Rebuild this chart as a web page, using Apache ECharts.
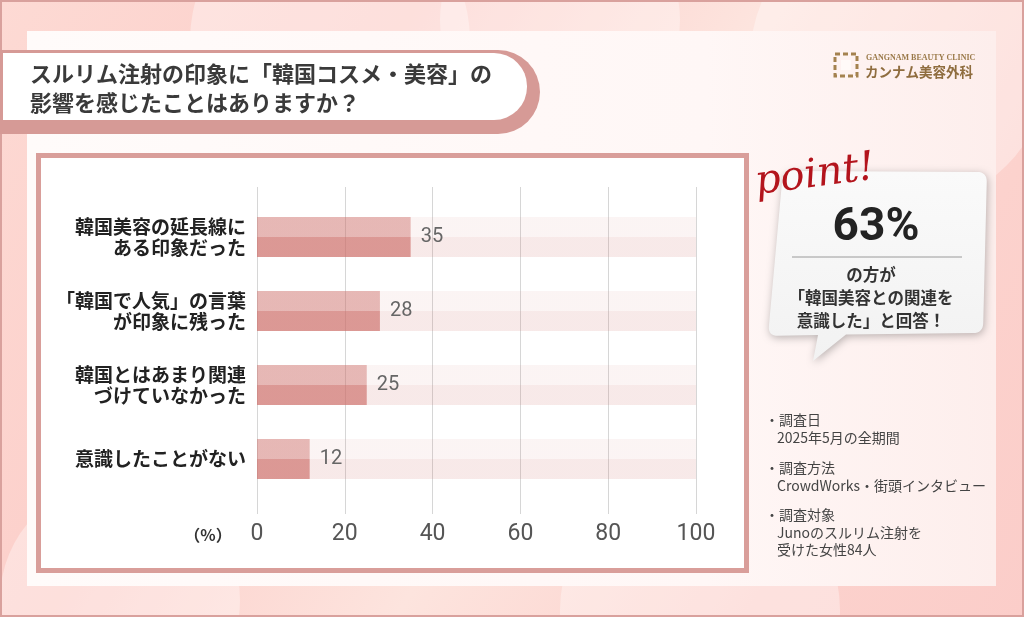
<!DOCTYPE html>
<html><head><meta charset="utf-8">
<script src="https://cdn.jsdelivr.net/npm/echarts@6/dist/echarts.min.js"></script>
<style>html,body{margin:0;padding:0;background:#fff;}#c{width:1024px;height:617px;}</style>
</head><body><div id="c"></div>
<script>
const titleLines = ['スルリム注射の印象に「韓国コスメ・美容」の', '影響を感じたことはありますか？'];
const categories = ['韓国美容の延長線に\nある印象だった', '「韓国で人気」の言葉\nが印象に残った', '韓国とはあまり関連\nづけていなかった', '意識したことがない'];
const values = [35, 28, 25, 12];
const axisMin = 0, axisMax = 100, axisStep = 20;
const unitLabel = '（%）';
const pointWord = 'point!';
const pointValue = '63%';
const pointLines = ['の方が', '「韓国美容との関連を', '意識した」と回答！'];
const notes = [
  ['・調査日', '2025年5月の全期間'],
  ['・調査方法', 'CrowdWorks・街頭インタビュー'],
  ['・調査対象', 'Junoのスルリム注射を', '受けた女性84人']
];
const logoEn = 'GANGNAM BEAUTY CLINIC';
const logoJa = 'カンナム美容外科';

const JP = '"Noto Sans CJK JP", "Noto Sans", sans-serif';
const chart = echarts.init(document.getElementById('c'), null, {renderer: 'canvas'});

function vgrad(a, b) {
  return new echarts.graphic.LinearGradient(0, 0, 0, 1, [
    {offset: 0, color: a}, {offset: 0.5, color: a}, {offset: 0.5, color: b}, {offset: 1, color: b}
  ]);
}
// rounded polygon outline (decoration shape only)
function roundedPoly(pts, r) {
  const out = [];
  const n = pts.length;
  for (let i = 0; i < n; i++) {
    const p = pts[i], pr = pts[(i - 1 + n) % n], nx = pts[(i + 1) % n];
    const rr = p[2] === undefined ? r : p[2];
    if (!rr) { out.push([p[0], p[1]]); continue; }
    const d1 = Math.hypot(pr[0] - p[0], pr[1] - p[1]), d2 = Math.hypot(nx[0] - p[0], nx[1] - p[1]);
    const a = [p[0] + (pr[0] - p[0]) * rr / d1, p[1] + (pr[1] - p[1]) * rr / d1];
    const b = [p[0] + (nx[0] - p[0]) * rr / d2, p[1] + (nx[1] - p[1]) * rr / d2];
    for (let k = 0; k <= 8; k++) {
      const t = k / 8;
      out.push([(1 - t) * (1 - t) * a[0] + 2 * t * (1 - t) * p[0] + t * t * b[0],
                (1 - t) * (1 - t) * a[1] + 2 * t * (1 - t) * p[1] + t * t * b[1]]);
    }
  }
  return out;
}

const graphics = [];
// background
graphics.push({type: 'rect', z: -10, shape: {x: 0, y: 0, width: 1024, height: 617},
  style: {fill: new echarts.graphic.LinearGradient(0, 0, 1, 1, [
    {offset: 0, color: '#fddad4'}, {offset: 0.3, color: '#fccfca'}, {offset: 0.55, color: '#fde4de'}, {offset: 0.8, color: '#fcd2cd'}, {offset: 1, color: '#fbcdc9'}])}});
[[330, 40, 140], [560, 20, 120], [900, 60, 150], [120, 600, 120], [700, 610, 140]].forEach(function (c) {
  graphics.push({type: 'circle', z: -9, shape: {cx: c[0], cy: c[1], r: c[2]}, style: {fill: 'rgba(255,255,255,0.35)'}});
});
graphics.push({type: 'rect', z: -8, shape: {x: 1, y: 1, width: 1022, height: 615}, style: {fill: 'none', stroke: '#d9a19d', lineWidth: 2}});
// inner panel
graphics.push({type: 'rect', z: -7, shape: {x: 27, y: 31, width: 969, height: 555},
  style: {fill: new echarts.graphic.LinearGradient(0, 0, 1, 0, [
    {offset: 0, color: '#fffbfa'}, {offset: 0.7, color: '#fff7f6'}, {offset: 1, color: '#fdeeec'}])}});
// title banner
graphics.push({type: 'rect', z: -6, shape: {x: -40, y: 50, width: 580, height: 84, r: [0, 42, 42, 0]}, style: {fill: '#d69a96'}});
graphics.push({type: 'rect', z: -5, shape: {x: 3, y: 53, width: 524, height: 67, r: [0, 33, 33, 0]}, style: {fill: '#ffffff'}});
titleLines.forEach(function (t, i) {
  graphics.push({type: 'text', z: 5, x: 30, y: 74 + i * 29, style: {text: t, font: 'bold 22px ' + JP, fill: '#3a3a3a', textVerticalAlign: 'middle'}});
});
// chart box
graphics.push({type: 'rect', z: -4, shape: {x: 38.5, y: 155.5, width: 708, height: 415}, style: {fill: '#ffffff', stroke: '#d99e9a', lineWidth: 5}});
graphics.push({type: 'text', z: 5, x: 208, y: 535, style: {text: unitLabel, font: 'bold 16px ' + JP, fill: '#333', textAlign: 'center', textVerticalAlign: 'middle'}});
// logo
graphics.push({type: 'rect', z: 5, shape: {x: 835, y: 54, width: 22, height: 22}, style: {fill: 'none', stroke: '#a4824f', lineWidth: 3, lineDash: [5, 3]}});
graphics.push({type: 'rect', z: 5, shape: {x: 841, y: 60, width: 10, height: 10}, style: {fill: '#fffaf8'}});
graphics.push({type: 'text', z: 5, x: 866, y: 58, style: {text: logoEn, font: 'bold 8px "Liberation Serif", serif', fill: '#9b7a4a', textVerticalAlign: 'middle'}});
graphics.push({type: 'text', z: 5, x: 865, y: 72, style: {text: logoJa, font: 'bold 13.5px ' + JP, fill: '#8f6d3f', textVerticalAlign: 'middle'}});
// bubble
const bubblePts = roundedPoly([[783, 171], [987, 172], [983, 333], [846, 334.5, 0], [813, 361, 0], [818, 335, 0], [768, 336]], 10);
graphics.push({type: 'polygon', z: 3, shape: {points: bubblePts},
  style: {fill: new echarts.graphic.LinearGradient(0, 0, 0, 1, [{offset: 0, color: '#fafafa'}, {offset: 1, color: '#f2f2f2'}]),
    shadowColor: 'rgba(0,0,0,0.28)', shadowBlur: 8, shadowOffsetX: 1, shadowOffsetY: 2}});
graphics.push({type: 'text', z: 6, x: 815, y: 176, rotation: 0.13, style: {text: pointWord, font: 'italic 40px "DejaVu Serif", serif', fill: '#b3141c', textAlign: 'center', textVerticalAlign: 'middle'}});
graphics.push({type: 'text', z: 6, x: 876, y: 228, style: {text: pointValue, font: 'bold 46px Roboto, "Noto Sans", sans-serif', fill: '#232323', textAlign: 'center', textVerticalAlign: 'middle'}});
graphics.push({type: 'line', z: 6, shape: {x1: 792, y1: 257, x2: 962, y2: 257}, style: {stroke: '#9a9a9a', lineWidth: 1}});
pointLines.forEach(function (t, i) {
  graphics.push({type: 'text', z: 6, x: 871, y: 275 + i * 23, style: {text: t, font: 'bold 16.5px ' + JP, fill: '#333', textAlign: 'center', textVerticalAlign: 'middle'}});
});
// notes
const noteY = [420, 468, 515];
notes.forEach(function (g, gi) {
  g.forEach(function (t, li) {
    graphics.push({type: 'text', z: 6, x: li === 0 ? 765 : 777, y: noteY[gi] + li * 17.5, style: {text: t, font: '14px ' + JP, fill: '#444', textVerticalAlign: 'middle'}});
  });
});

chart.setOption({
  animation: false,
  graphic: graphics,
  grid: [
    {left: 257, width: 439, top: 187, height: 327},
    {left: 257, width: 439, top: 200, height: 296}
  ],
  xAxis: [
    {gridIndex: 0, type: 'value', min: axisMin, max: axisMax, interval: axisStep,
      axisLine: {show: false}, axisTick: {show: false},
      splitLine: {lineStyle: {color: '#d6d6d6', width: 1}},
      axisLabel: {color: '#555', fontSize: 23, margin: 9, fontFamily: 'Roboto, "Noto Sans", sans-serif'}},
    {gridIndex: 1, type: 'value', min: axisMin, max: axisMax, show: false}
  ],
  yAxis: [
    {gridIndex: 0, type: 'value', show: false},
    {gridIndex: 1, type: 'category', data: categories, inverse: true,
      axisLine: {show: false}, axisTick: {show: false}, splitLine: {show: false},
      axisLabel: {color: '#222', fontSize: 19, lineHeight: 21, margin: 11, fontWeight: 'bold', fontFamily: JP, align: 'right'}}
  ],
  series: [{
    type: 'bar', xAxisIndex: 1, yAxisIndex: 1, data: values, barWidth: 40,
    showBackground: true,
    backgroundStyle: {color: vgrad('rgba(205,110,105,0.075)', 'rgba(205,110,105,0.15)')},
    itemStyle: {color: vgrad('rgba(205,110,105,0.45)', 'rgba(205,110,105,0.66)')},
    label: {show: true, position: 'right', distance: 10, color: '#666', fontSize: 20, fontFamily: 'Roboto, "Noto Sans", sans-serif'}
  }]
});
</script></body></html>
